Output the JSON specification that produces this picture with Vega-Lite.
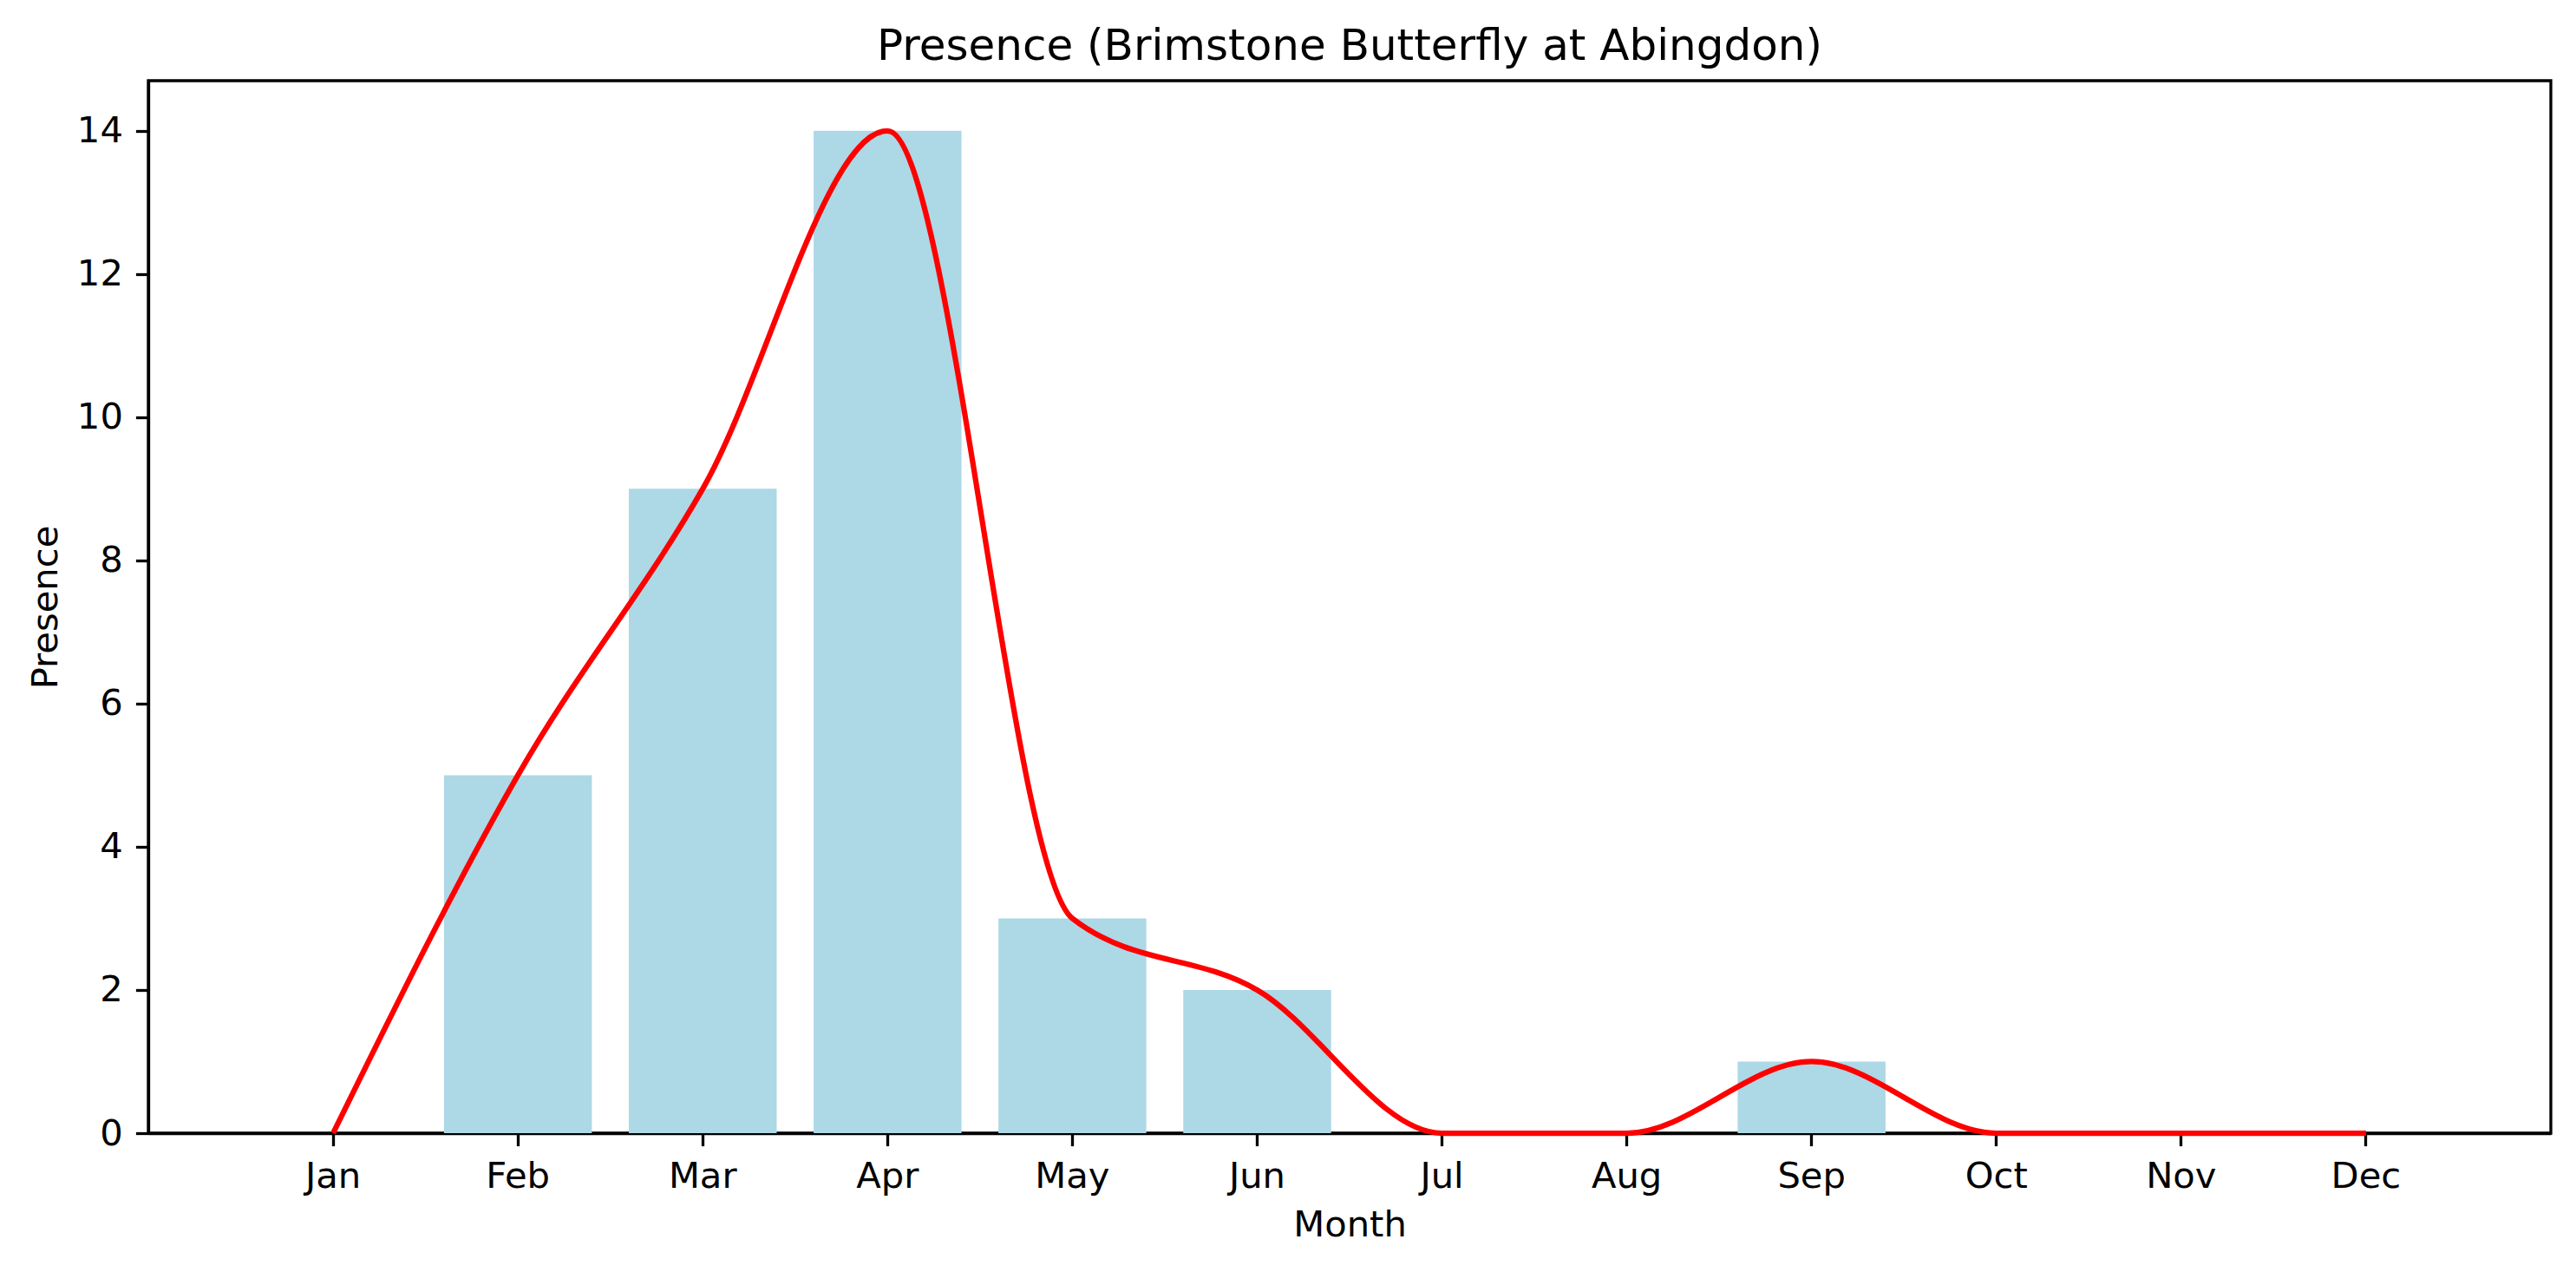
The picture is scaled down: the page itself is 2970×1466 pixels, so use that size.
{
  "$schema": "https://vega.github.io/schema/vega-lite/v6.json",
  "description": "Monthly presence of the Brimstone Butterfly at Abingdon.",
  "title": {
    "text": "Presence (Brimstone Butterfly at Abingdon)",
    "font": "DejaVu Sans",
    "fontSize": 50,
    "fontWeight": "normal",
    "color": "black",
    "offset": 14
  },
  "autosize": {"type": "none"},
  "padding": {"left": 171, "top": 93, "right": 29, "bottom": 160},
  "width": 2770,
  "height": 1213,
  "background": "white",
  "config": {
    "view": {"stroke": "black", "strokeWidth": 3.3},
    "axis": {
      "labelFont": "DejaVu Sans",
      "labelFontSize": 41.7,
      "labelColor": "black",
      "titleFont": "DejaVu Sans",
      "titleFontSize": 41.7,
      "titleFontWeight": "normal",
      "titleColor": "black",
      "domainColor": "black",
      "domainWidth": 3.3,
      "tickColor": "black",
      "tickWidth": 3.3,
      "tickSize": 14.6,
      "labelPadding": 15,
      "grid": false
    }
  },
  "data": {
    "values": [
      {"Month": "Jan", "Presence": 0},
      {"Month": "Feb", "Presence": 5},
      {"Month": "Mar", "Presence": 9},
      {"Month": "Apr", "Presence": 14},
      {"Month": "May", "Presence": 3},
      {"Month": "Jun", "Presence": 2},
      {"Month": "Jul", "Presence": 0},
      {"Month": "Aug", "Presence": 0},
      {"Month": "Sep", "Presence": 1},
      {"Month": "Oct", "Presence": 0},
      {"Month": "Nov", "Presence": 0},
      {"Month": "Dec", "Presence": 0}
    ]
  },
  "encoding": {
    "x": {
      "field": "Month",
      "type": "nominal",
      "title": "Month",
      "scale": {
        "domain": ["Jan", "Feb", "Mar", "Apr", "May", "Jun", "Jul", "Aug", "Sep", "Oct", "Nov", "Dec"],
        "paddingInner": 0.2,
        "paddingOuter": 0.6
      },
      "axis": {"labelAngle": 0, "bandPosition": 0.5, "titlePadding": 14}
    },
    "y": {
      "field": "Presence",
      "type": "quantitative",
      "title": "Presence",
      "scale": {"domain": [0, 14.7], "nice": false, "zero": true},
      "axis": {"values": [0, 2, 4, 6, 8, 10, 12, 14], "titlePadding": 14}
    }
  },
  "layer": [
    {
      "mark": {"type": "bar", "color": "#add8e6"}
    },
    {
      "mark": {"type": "line", "color": "red", "strokeWidth": 6.25, "interpolate": "monotone"},
      "encoding": {
        "x": {
          "field": "Month",
          "type": "nominal",
          "bandPosition": 0.5
        }
      }
    }
  ]
}
